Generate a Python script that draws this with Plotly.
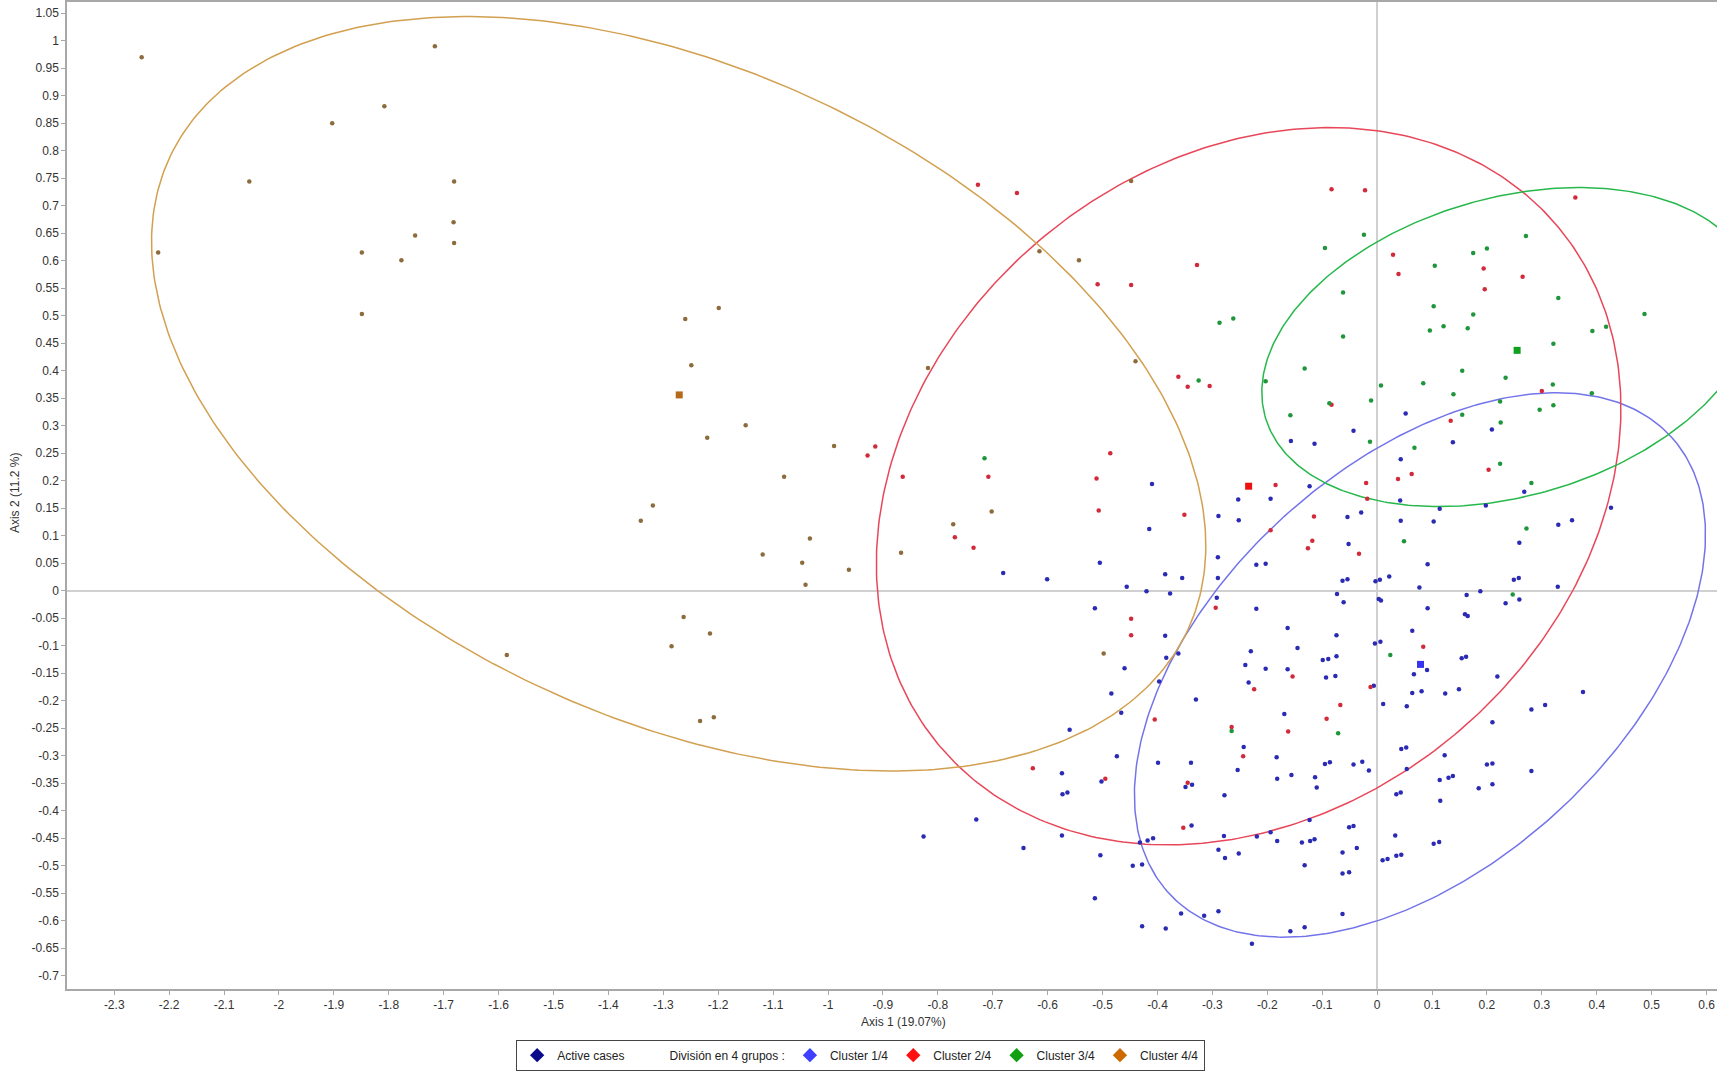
import numpy as np
import plotly.graph_objects as go

# ---------------- data ----------------
cluster1_xy = [  # Cluster 1/4 (blue)
    (-0.410, 0.194), (-0.415, 0.112), (-0.681, 0.032), (-0.601, 0.021), (-0.505, 0.051),
    (-0.386, 0.030), (-0.355, 0.023), (-0.456, 0.007), (-0.420, -0.001), (-0.377, -0.005),
    (-0.514, -0.032), (-0.386, -0.082), (-0.384, -0.122), (-0.362, -0.114), (-0.460, -0.141),
    (-0.397, -0.165), (-0.484, -0.187), (-0.330, -0.198), (-0.466, -0.222), (-0.560, -0.253),
    (-0.474, -0.301), (-0.399, -0.313), (-0.339, -0.313),
    (-0.157, 0.272), (-0.253, 0.166), (-0.194, 0.167), (-0.289, 0.136), (-0.252, 0.128),
    (0.052, 0.322), (-0.043, 0.291), (0.209, 0.293), (-0.114, 0.267), (0.138, 0.270),
    (0.043, 0.239), (-0.123, 0.190), (0.042, 0.164), (0.268, 0.180), (0.114, 0.149),
    (0.198, 0.155), (0.426, 0.151), (-0.054, 0.134), (-0.029, 0.142), (0.043, 0.127),
    (0.103, 0.126), (0.330, 0.120), (0.355, 0.128), (-0.052, 0.085), (0.259, 0.087),
    (-0.290, 0.061), (-0.290, 0.023), (-0.220, 0.047), (-0.203, 0.049), (-0.292, -0.013),
    (-0.220, -0.033), (-0.163, -0.068), (-0.145, -0.104), (-0.230, -0.110), (-0.240, -0.135),
    (-0.203, -0.142), (-0.163, -0.143), (-0.234, -0.167), (-0.169, -0.224), (-0.243, -0.284),
    (-0.183, -0.303), (-0.254, -0.326), (-0.182, -0.342), (-0.156, -0.335), (-0.574, -0.332),
    (-0.502, -0.347), (-0.573, -0.370), (-0.564, -0.367), (-0.337, -0.353), (-0.349, -0.357),
    (-0.278, -0.372), (-0.730, -0.416), (-0.826, -0.447), (-0.574, -0.445), (-0.644, -0.468),
    (-0.504, -0.481), (-0.445, -0.500), (-0.428, -0.498), (-0.432, -0.458), (-0.418, -0.454),
    (-0.408, -0.450), (-0.338, -0.427), (-0.279, -0.446), (-0.289, -0.471), (-0.277, -0.486),
    (-0.252, -0.478), (-0.219, -0.447), (-0.194, -0.439), (-0.182, -0.455),
    (-0.514, -0.559), (-0.428, -0.610), (-0.385, -0.614), (-0.357, -0.587), (-0.315, -0.591),
    (-0.289, -0.583), (-0.228, -0.642), (-0.158, -0.619),
    (0.092, 0.048), (-0.063, 0.018), (-0.054, 0.021), (-0.003, 0.017), (0.005, 0.020),
    (0.022, 0.026), (0.077, 0.006), (0.249, 0.020), (0.258, 0.023), (0.329, 0.007),
    (-0.073, -0.006), (-0.061, -0.021), (0.003, -0.015), (0.007, -0.018), (0.092, -0.032),
    (0.163, -0.008), (0.188, -0.001), (0.234, -0.023), (0.259, -0.016), (0.160, -0.043),
    (0.165, -0.046), (-0.074, -0.081), (0.064, -0.073), (-0.004, -0.096), (0.006, -0.093),
    (-0.099, -0.126), (-0.089, -0.124), (-0.074, -0.119), (0.091, -0.144), (0.154, -0.123),
    (0.162, -0.120), (-0.093, -0.158), (-0.076, -0.155), (0.067, -0.152), (0.219, -0.156),
    (-0.006, -0.173), (0.064, -0.186), (0.081, -0.183), (0.124, -0.187), (0.149, -0.179),
    (0.375, -0.184), (0.011, -0.206), (0.054, -0.210), (0.281, -0.216), (0.306, -0.208),
    (0.210, -0.239), (0.044, -0.288), (0.053, -0.285), (0.123, -0.299), (-0.095, -0.315),
    (-0.086, -0.312), (-0.043, -0.316), (-0.027, -0.311), (-0.015, -0.327), (0.054, -0.324),
    (0.200, -0.316), (0.210, -0.314), (0.281, -0.328), (-0.113, -0.339), (-0.110, -0.358),
    (0.114, -0.344), (0.130, -0.340), (0.138, -0.337), (0.185, -0.359), (0.210, -0.352),
    (0.035, -0.370), (0.043, -0.367), (0.115, -0.382), (-0.123, -0.417), (-0.051, -0.430),
    (-0.043, -0.428), (-0.137, -0.458), (-0.122, -0.455), (-0.114, -0.452), (-0.037, -0.468),
    (-0.063, -0.476), (0.033, -0.445), (0.103, -0.460), (0.113, -0.457), (0.010, -0.490),
    (0.019, -0.488), (0.035, -0.482), (0.044, -0.480), (-0.132, -0.499), (-0.063, -0.514),
    (-0.051, -0.512), (-0.063, -0.588), (-0.132, -0.612),
]

cluster2_xy = [  # Cluster 2/4 (red)
    (-0.914, 0.262), (-0.928, 0.246), (-0.864, 0.207), (-0.708, 0.207), (-0.486, 0.250),
    (-0.511, 0.204), (-0.507, 0.146), (-0.351, 0.138), (-0.362, 0.389), (-0.345, 0.371),
    (-0.305, 0.372), (-0.769, 0.097), (-0.735, 0.078), (-0.448, -0.051), (-0.448, -0.081),
    (-0.405, -0.234), (-0.627, -0.323), (-0.727, 0.738), (-0.656, 0.723), (-0.509, 0.557),
    (-0.448, 0.556), (-0.328, 0.592), (-0.185, 0.192), (-0.194, 0.110), (-0.083, 0.730),
    (-0.022, 0.728), (0.361, 0.715), (0.029, 0.611), (0.194, 0.586), (0.039, 0.576),
    (0.265, 0.571), (0.196, 0.548), (0.300, 0.363), (0.134, 0.309), (0.203, 0.220),
    (0.038, 0.203), (0.063, 0.212), (-0.020, 0.196), (-0.018, 0.167), (-0.115, 0.135),
    (-0.118, 0.091), (-0.126, 0.077), (-0.083, 0.338), (-0.294, -0.031), (-0.154, -0.156),
    (-0.224, -0.179), (-0.265, -0.248), (-0.162, -0.256), (-0.244, -0.301), (-0.495, -0.342),
    (-0.345, -0.349), (-0.353, -0.431), (-0.033, 0.067), (0.084, -0.102), (-0.012, -0.175),
    (-0.067, -0.208), (-0.092, -0.233),
]

cluster3_xy = [  # Cluster 3/4 (green)
    (-0.715, 0.241), (-0.325, 0.382), (-0.287, 0.487), (-0.262, 0.495), (-0.203, 0.381),
    (-0.158, 0.319), (-0.024, 0.647), (-0.095, 0.623), (0.271, 0.645), (0.175, 0.614),
    (0.200, 0.622), (0.105, 0.591), (-0.062, 0.542), (0.330, 0.532), (0.103, 0.517),
    (0.175, 0.502), (0.487, 0.503), (0.121, 0.481), (0.096, 0.473), (0.165, 0.477),
    (0.392, 0.472), (0.417, 0.480), (-0.062, 0.462), (0.321, 0.449), (-0.132, 0.404),
    (0.155, 0.400), (0.234, 0.387), (0.007, 0.373), (0.084, 0.377), (0.320, 0.375),
    (0.139, 0.357), (0.391, 0.359), (-0.087, 0.341), (-0.011, 0.346), (0.224, 0.344),
    (0.321, 0.337), (0.296, 0.329), (0.155, 0.320), (0.225, 0.306), (-0.013, 0.271),
    (0.068, 0.260), (0.224, 0.231), (0.281, 0.196), (0.272, 0.113), (0.049, 0.090),
    (-0.265, -0.255), (0.247, -0.007), (0.024, -0.117), (-0.071, -0.259),
]

cluster4_xy = [  # Cluster 4/4 (orange)
    (-2.250, 0.970), (-2.220, 0.615), (-2.054, 0.744), (-1.903, 0.850), (-1.808, 0.881),
    (-1.716, 0.990), (-1.681, 0.744), (-1.682, 0.670), (-1.681, 0.632), (-1.752, 0.646),
    (-1.777, 0.601), (-1.849, 0.615), (-1.849, 0.503), (-1.199, 0.514), (-1.260, 0.494),
    (-1.249, 0.410), (-1.150, 0.301), (-1.220, 0.278), (-0.989, 0.263), (-1.080, 0.207),
    (-1.319, 0.155), (-1.341, 0.127), (-1.033, 0.095), (-1.119, 0.066), (-1.047, 0.051),
    (-0.962, 0.038), (-1.041, 0.011), (-0.867, 0.069), (-0.772, 0.121), (-0.702, 0.144),
    (-0.818, 0.405), (-0.440, 0.417), (-0.615, 0.617), (-0.543, 0.601), (-0.448, 0.745),
    (-0.498, -0.114), (-1.263, -0.048), (-1.215, -0.078), (-1.285, -0.101), (-1.233, -0.237),
    (-1.208, -0.230), (-1.585, -0.117),
]

cluster_names = ["Cluster 1/4", "Cluster 2/4", "Cluster 3/4", "Cluster 4/4"]
centroid_x = [0.079, -0.234, 0.255, -1.271]
centroid_y = [-0.134, 0.190, 0.437, 0.356]

# confidence ellipses: centre, semi-axes, rotation (degrees)
ellipse_cx = [0.078, -0.234, 0.240, -1.272]
ellipse_cy = [-0.135, 0.190, 0.443, 0.358]
ellipse_a = [0.6176, 0.7348, 0.4616, 1.0218]
ellipse_b = [0.3661, 0.5873, 0.2711, 0.5900]
ellipse_angle = [42.05, 39.9, 16.0, -24.8]

x_tick_vals = [-2.3, -2.2, -2.1, -2.0, -1.9, -1.8, -1.7, -1.6, -1.5, -1.4, -1.3, -1.2, -1.1, -1.0,
               -0.9, -0.8, -0.7, -0.6, -0.5, -0.4, -0.3, -0.2, -0.1, 0.0, 0.1, 0.2, 0.3, 0.4, 0.5, 0.6]
x_tick_text = ["-2.3", "-2.2", "-2.1", "-2", "-1.9", "-1.8", "-1.7", "-1.6", "-1.5", "-1.4", "-1.3",
               "-1.2", "-1.1", "-1", "-0.9", "-0.8", "-0.7", "-0.6", "-0.5", "-0.4", "-0.3", "-0.2",
               "-0.1", "0", "0.1", "0.2", "0.3", "0.4", "0.5", "0.6"]
y_tick_vals = [1.05, 1.0, 0.95, 0.9, 0.85, 0.8, 0.75, 0.7, 0.65, 0.6, 0.55, 0.5, 0.45, 0.4, 0.35,
               0.3, 0.25, 0.2, 0.15, 0.1, 0.05, 0.0, -0.05, -0.1, -0.15, -0.2, -0.25, -0.3, -0.35,
               -0.4, -0.45, -0.5, -0.55, -0.6, -0.65, -0.7]
y_tick_text = ["1.05", "1", "0.95", "0.9", "0.85", "0.8", "0.75", "0.7", "0.65", "0.6", "0.55", "0.5",
               "0.45", "0.4", "0.35", "0.3", "0.25", "0.2", "0.15", "0.1", "0.05", "0", "-0.05", "-0.1",
               "-0.15", "-0.2", "-0.25", "-0.3", "-0.35", "-0.4", "-0.45", "-0.5", "-0.55", "-0.6",
               "-0.65", "-0.7"]

# ---------------- styling ----------------
FONT = "Liberation Sans, Arial, sans-serif"
point_colors = ["#2a2ab4", "#d22a3a", "#1f963c", "#8c6c3c"]
centroid_colors = ["#3535f0", "#ee1111", "#10a020", "#b46a18"]
ellipse_colors = ["#7474ea", "#e8475a", "#27b84b", "#d2a050"]
legend_colors = ["#3f3fff", "#ff1010", "#10a010", "#cc6a00"]

fig = go.Figure()

t = np.linspace(0, 2 * np.pi, 400)
for i in range(4):
    th = np.deg2rad(ellipse_angle[i])
    ex = ellipse_cx[i] + ellipse_a[i] * np.cos(t) * np.cos(th) - ellipse_b[i] * np.sin(t) * np.sin(th)
    ey = ellipse_cy[i] + ellipse_a[i] * np.cos(t) * np.sin(th) + ellipse_b[i] * np.sin(t) * np.cos(th)
    fig.add_trace(go.Scatter(x=ex, y=ey, mode="lines", line=dict(color=ellipse_colors[i], width=1.5),
                             showlegend=False, hoverinfo="skip"))

for i, pts in enumerate([cluster1_xy, cluster2_xy, cluster3_xy, cluster4_xy]):
    fig.add_trace(go.Scatter(x=[p[0] for p in pts], y=[p[1] for p in pts], mode="markers",
                             marker=dict(size=4.5, color=point_colors[i], line=dict(width=0)),
                             showlegend=False, name=cluster_names[i]))

for i in range(4):
    fig.add_trace(go.Scatter(x=[centroid_x[i]], y=[centroid_y[i]], mode="markers",
                             marker=dict(symbol="square", size=7, color=centroid_colors[i]),
                             showlegend=False))

# legend entries
fig.add_trace(go.Scatter(x=[None], y=[None], mode="markers", name="Active cases",
                         marker=dict(symbol="diamond", size=11, color="#0a0a8c")))
fig.add_trace(go.Scatter(x=[None], y=[None], mode="markers", name="División en 4 grupos :",
                         marker=dict(symbol="diamond", size=11, color="rgba(0,0,0,0)")))
for i in range(4):
    fig.add_trace(go.Scatter(x=[None], y=[None], mode="markers", name=cluster_names[i],
                             marker=dict(symbol="diamond", size=11, color=legend_colors[i])))

axis_common = dict(showgrid=False, zeroline=True, zerolinecolor="#d0d0d0", zerolinewidth=1.5,
                   showline=True, linecolor="#a8a8a8", linewidth=1.5, ticks="outside", ticklen=4,
                   tickcolor="#a8a8a8", tickfont=dict(family=FONT, size=12, color="#333333"),
                   automargin=False)

fig.update_layout(
    width=1717, height=1071,
    margin=dict(l=67, r=0, t=2, b=82),
    plot_bgcolor="white", paper_bgcolor="white",
    font=dict(family=FONT, size=12, color="#222222"),
    xaxis=dict(range=[-2.386, 0.619], tickmode="array", tickvals=x_tick_vals, ticktext=x_tick_text,
               mirror=True, **axis_common),
    yaxis=dict(range=[-0.7242, 1.0704], tickmode="array", tickvals=y_tick_vals, ticktext=y_tick_text,
               **axis_common),
    legend=dict(orientation="h", x=0.481, xanchor="center", y=-0.067, yanchor="middle",
                bordercolor="#444444", borderwidth=1, bgcolor="white",
                font=dict(family=FONT, size=12, color="#222222"), itemwidth=30),
    annotations=[
        dict(text="Axis 1 (19.07%)", xref="paper", yref="paper", x=0.5067, y=-0.0334,
             xanchor="center", yanchor="middle", showarrow=False,
             font=dict(family=FONT, size=12, color="#333333")),
        dict(text="Axis 2 (11.2 %)", xref="paper", yref="paper", x=-0.0315, y=0.5025,
             xanchor="center", yanchor="middle", textangle=-90, showarrow=False,
             font=dict(family=FONT, size=12, color="#333333")),
    ],
)

fig.write_html(
    "out.html",
    config={"displayModeBar": False},
    post_script="document.body.style.margin='0';document.body.style.overflow='hidden';",
)
